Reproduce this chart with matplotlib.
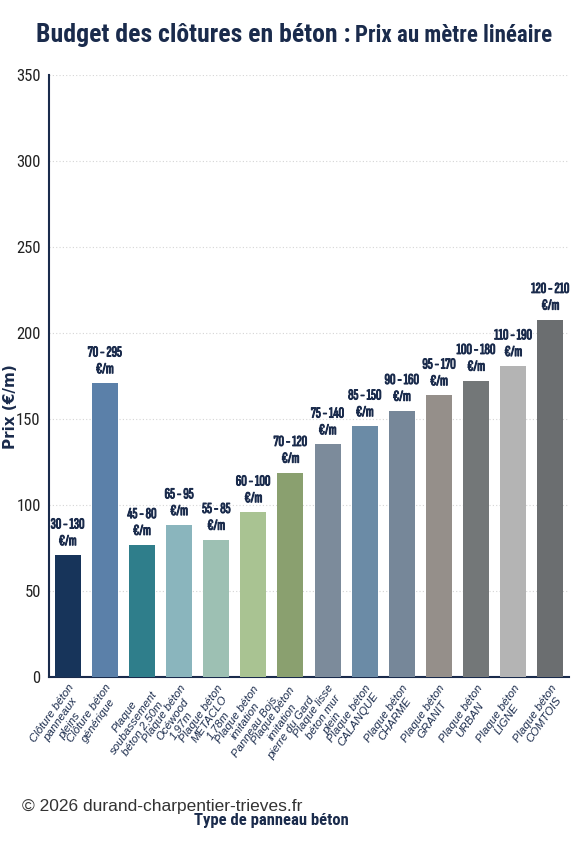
import matplotlib
matplotlib.use("Agg")
import matplotlib.pyplot as plt
import matplotlib.patheffects as pe

categories = [
    "Clôture béton\npanneaux\npleins",
    "Clôture béton\ngénérique",
    "Plaque\nsoubassement\nbéton 2,50m",
    "Plaque béton\nOcéwood\n1,97m",
    "Plaque béton\nMETACLO\n1,78m",
    "Plaque béton\nimitation\nPanneau Bois",
    "Plaque béton\nimitation\npierre du Gard",
    "Plaque lisse\nbéton mur\nplein",
    "Plaque béton\nCALANQUE",
    "Plaque béton\nCHARME",
    "Plaque béton\nGRANIT",
    "Plaque béton\nURBAN",
    "Plaque béton\nLIGNE",
    "Plaque béton\nCOMTOIS",
]
values = [71, 171, 77, 88.5, 80, 96, 119, 135.5, 146, 155, 164, 172.5, 181, 208]
range_labels = ["30 - 130", "70 - 295", "45 - 80", "65 - 95", "55 - 85", "60 - 100",
                "70 - 120", "75 - 140", "85 - 150", "90 - 160", "95 - 170",
                "100 - 180", "110 - 190", "120 - 210"]
colors = ["#17345a", "#5b80a9", "#2f7e8b", "#8ab5bd", "#9dc0b3", "#a9c392",
          "#8aa06f", "#7c8b9b", "#6b8ba6", "#768799", "#958f8a", "#737778",
          "#b4b4b4", "#6b6e70"]
yticks = [0, 50, 100, 150, 200, 250, 300, 350]

narrow = "Roboto Condensed"
xnarrow = "Sofia Sans Extra Condensed"
navy = "#1a2b4c"

fig = plt.figure(figsize=(5.77, 8.66), dpi=100)
ax = fig.add_axes([0.085, 0.218, 0.901, 0.695])

x = range(len(values))
ax.bar(x, values, width=0.7, color=colors, zorder=3)
ax.set_xlim(-0.5, len(values) - 0.5)
ax.set_ylim(0, 350)
ax.set_yticks(yticks)
ax.set_yticklabels([str(t) for t in yticks], fontfamily=narrow, fontsize=12, color="#222222")
ax.tick_params(axis="y", length=0, pad=6)
ax.tick_params(axis="x", length=0, pad=4)
ax.grid(axis="y", linestyle=(0, (1, 2)), color="#d5d5d5", linewidth=0.8, zorder=0)
for s in ["top", "right"]:
    ax.spines[s].set_visible(False)
ax.spines["left"].set_color(navy)
ax.spines["bottom"].set_color(navy)
ax.spines["left"].set_linewidth(1.5)
ax.spines["bottom"].set_linewidth(1.5)

ax.set_xticks(list(x))
ax.set_xticklabels(categories, rotation=55, ha="right", va="top", rotation_mode="anchor",
                   fontstyle="italic", fontfamily="Liberation Sans", fontsize=8.2,
                   color=navy, multialignment="center", linespacing=1.1)

stroke = [pe.withStroke(linewidth=0.7, foreground=navy)]
for i, (v, lab) in enumerate(zip(values, range_labels)):
    ax.text(i, v + 4, lab + "\n€/m", ha="center", va="bottom",
            fontfamily=[xnarrow, "Roboto Condensed"],
            fontweight="bold", fontsize=11, color=navy, linespacing=1.25, zorder=4,
            path_effects=stroke)

ax.set_ylabel("Prix (€/m)", fontsize=11, fontweight="bold", color=navy,
              fontfamily="DejaVu Sans")
ax.yaxis.set_label_coords(-0.06, 0.449)

t1 = fig.text(0.062, 0.952, "Budget des clôtures en béton :", fontfamily=narrow,
              fontweight="bold", fontsize=18.5, color=navy, ha="left", va="baseline")
fig.canvas.draw()
bb = t1.get_window_extent()
x_end = bb.x1 / fig.bbox.width
fig.text(x_end + 0.008, 0.952, "Prix au mètre linéaire", fontfamily=narrow,
         fontweight="bold", fontsize=16.5, color=navy, ha="left", va="baseline")

fig.text(0.038, 0.069, "© 2026 durand-charpentier-trieves.fr", fontfamily="Liberation Sans",
         fontsize=12.5, color="#333333", ha="left", va="center")
fig.text(0.47, 0.053, "Type de panneau béton", fontfamily=narrow, fontweight="bold",
         fontsize=12, color=navy, ha="center", va="center")

fig.savefig("out.png", dpi=100, facecolor="white")
